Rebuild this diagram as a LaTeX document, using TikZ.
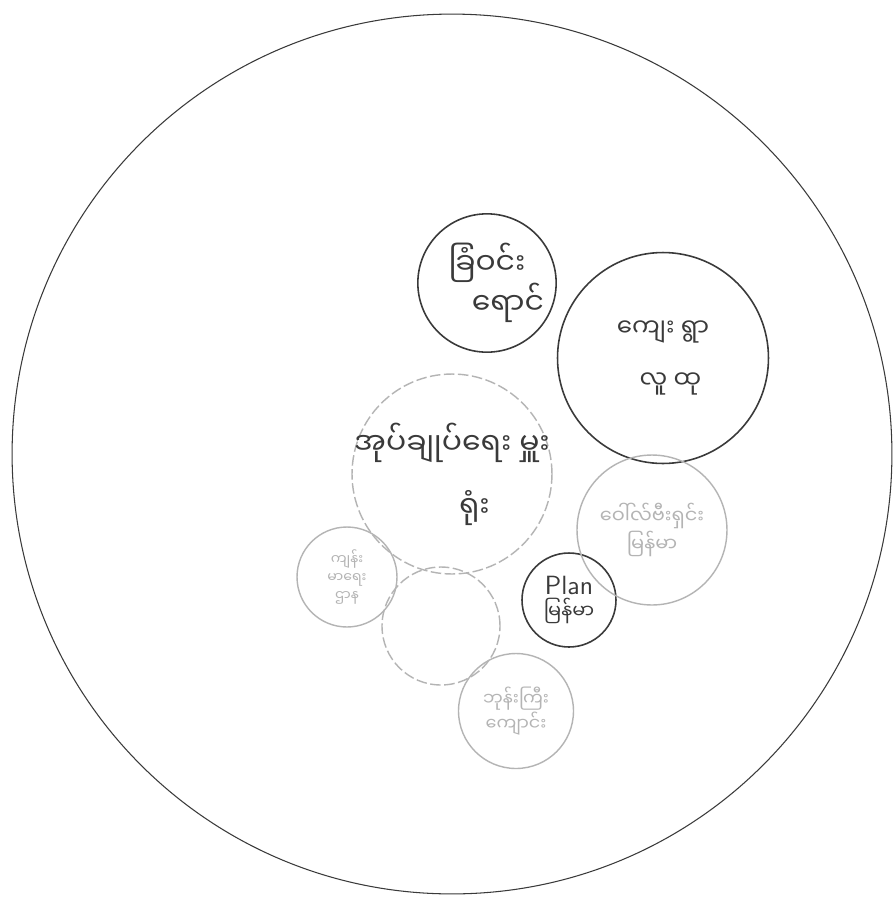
\documentclass[tikz,border=0pt]{standalone}
\usepackage{fontspec}
\newfontfamily\mmfont[Script=Myanmar]{Noto Sans Myanmar UI}
\usepackage{xcolor}
\definecolor{pencil}{HTML}{3A3A3A}
\definecolor{faint}{HTML}{B4B4B4}
\definecolor{paper}{HTML}{FFFFFF}

\begin{document}
\begin{tikzpicture}[x=0.02cm, y=-0.02cm,
        ring/.style={circle, draw=pencil, line width=0.9pt, inner sep=0pt,
          align=center, text=pencil},
        faintring/.style={circle, draw=faint, line width=0.8pt, inner sep=0pt,
          align=center, text=faint},
        dashring/.style={faintring, dash pattern=on 6pt off 2pt},
      ]
      \useasboundingbox[fill=paper] (0,0) rectangle (894,897);

      % === Village boundary ===
      \node[ring, line width=0.6pt, minimum size=17.6cm] (village) at (452,454) {};

      % === Dark circles ===
      \node[ring, minimum size=2.48cm, font=\mmfont\fontsize{17}{18}\selectfont]
        (yard) at (487,283) {ခြံဝင်း\\[-1pt]\hspace{1.4em}ရောင်};
      \node[ring, minimum size=4.22cm, font=\mmfont\fontsize{14}{30}\selectfont]
        (villagers) at (663,358) {ကျေး ရွာ\\\hspace{0.6em}လူ ထု};
      \node[ring, minimum size=1.88cm, font=\sffamily\fontsize{15}{15}\selectfont]
        (plan) at (569,600) {Plan\\[-1pt]{\mmfont\fontsize{11}{12}\selectfont မြန်မာ}};

      % === Office in the middle ===
      \node[dashring, minimum size=4.0cm, inner sep=-12pt, text=pencil,
        font=\mmfont\fontsize{17}{36}\selectfont]
        (office) at (452,474) {အုပ်ချုပ်ရေး မှူး\\\hspace{1.5em}ရုံး};

      % === Faint circles ===
      \node[faintring, minimum size=3.0cm, font=\mmfont\fontsize{11}{16}\selectfont]
        (vision) at (652,530) {ဝေါ်လ်ဗီးရှင်း\\မြန်မာ};
      \node[faintring, minimum size=2.0cm, font=\mmfont\fontsize{8}{10}\selectfont]
        (health) at (347,577) {ကျန်း\\မာရေး\\ဌာန};
      \node[dashring, minimum size=2.36cm] (blank) at (441,626) {};
      \node[faintring, minimum size=2.3cm, font=\mmfont\fontsize{10}{14}\selectfont]
        (school) at (516,711) {ဘုန်းကြီး\\ကျောင်း};

      \end{tikzpicture}
\end{document}
